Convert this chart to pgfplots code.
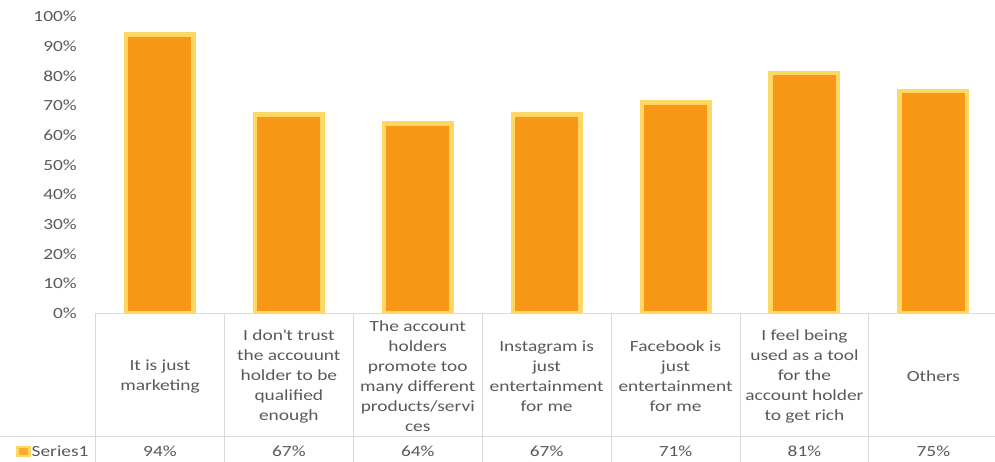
\documentclass[border=0pt]{standalone}
\usepackage{fontspec}
\setmainfont{Carlito}[FakeStretch=1.25]
\usepackage{pgfplots}
\pgfplotsset{compat=1.18}
\definecolor{barfill}{RGB}{248,150,22}
\definecolor{barborder}{RGB}{255,215,100}
\definecolor{txt}{RGB}{89,89,89}
\definecolor{tline}{RGB}{217,217,217}
\begin{document}
\begin{tikzpicture}
\useasboundingbox (0,0) rectangle (995pt,462pt);
\begin{axis}[
  at={(95.5pt,148.7pt)}, anchor=south west,
  scale only axis, width=902.3pt, height=296.6pt,
  xmin=-0.5, xmax=6.5, ymin=0, ymax=100,
  /pgf/number format/assume math mode=true,
  axis line style={draw=none},
  tick style={draw=none},
  ytick={0,10,...,100},
  yticklabel={\pgfmathprintnumber{\tick}\%},
  yticklabel style={anchor=east, inner sep=0pt, xshift=-18.5pt, text=txt, font=\fontsize{15.5}{20}\selectfont},
  xtick={0,...,6},
  xticklabels={{It is just\\marketing},
    {I don\textquotesingle t trust\\the accouunt\\holder to be\\qualified\\enough},
    {The account\\holders\\promote too\\many different\\products/servi\\ces},
    {Instagram is\\just\\entertainment\\for me},
    {Facebook is\\just\\entertainment\\for me},
    {I feel being\\used as a tool\\for the\\account holder\\to get rich},
    {Others}},
  xticklabel style={align=center, anchor=center, inner sep=0pt, yshift=-63pt, text=txt, font=\fontsize{15.5}{20}\selectfont},
  extra x ticks={0,...,6},
  extra x tick labels={94\%,67\%,64\%,67\%,71\%,81\%,75\%},
  extra x tick style={xticklabel style={yshift=-75.4pt}},
  legend style={at={(-0.0881,-0.4666)}, anchor=west, draw=none, fill=none, inner sep=0pt, text=txt, font=\fontsize{15.5}{20}\selectfont, nodes={inner xsep=1pt}},
  legend image code/.code={\draw[draw=barborder, fill=barfill!70!barborder, line width=2.5pt] (0pt,-4.5pt) rectangle (12pt,4.5pt);},
]
\addplot[ybar, bar width=67.5pt, fill=barfill, draw=barborder, line width=4.5pt]
  coordinates {(0,94) (1,67) (2,64) (3,67) (4,71) (5,81) (6,75)};
\addlegendentry{Series1}
\end{axis}
\draw[tline, line width=1pt] (95.5pt,148.7pt) -- (998pt,148.7pt);
\draw[tline, line width=1pt] (0pt,25pt) -- (998pt,25pt);
\foreach \i in {0,...,7} \draw[tline, line width=1pt] (95.5pt+\i*128.9pt,148.7pt) -- ++(0pt,-160pt);
\end{tikzpicture}
\end{document}
